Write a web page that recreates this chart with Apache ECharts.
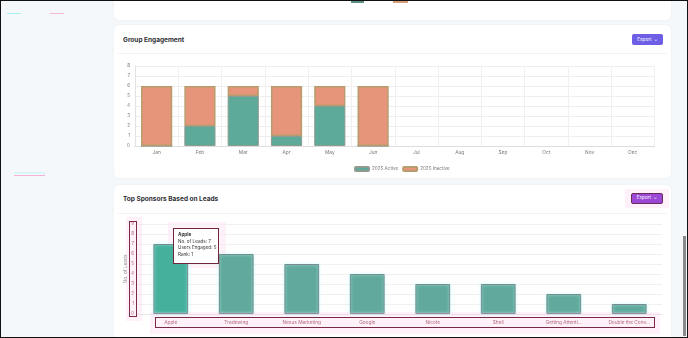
<!DOCTYPE html>
<html>
<head>
<meta charset="utf-8">
<script src="https://cdn.jsdelivr.net/npm/echarts@6/dist/echarts.min.js"></script>
<style>
  html, body { margin:0; padding:0; }
  body { width:688px; height:338px; position:relative; overflow:hidden; background:#f5f8fb; font-family: Inter, "Noto Sans", sans-serif; }
  .abs { position:absolute; box-sizing:border-box; }
  .card { background:#fff; border-radius:5px; box-shadow:0 0 2px rgba(0,0,0,0.07); }
  .title { font-size:6.5px; font-weight:700; color:#2e2e33; white-space:nowrap; line-height:8px; }
  .btn { color:#fff; font-size:4.6px; line-height:11px; text-align:center; border-radius:2px; white-space:nowrap; }
  .sep { height:1px; background:#f2f2f4; }
  .box { border:1.5px solid #7a2a44; pointer-events:none; }
  .pink { background:rgba(255,170,215,0.16); pointer-events:none; }
</style>
</head>
<body>
<script>
// ---------- data ----------
var months = ['Jan','Feb','Mar','Apr','May','Jun','Jul','Aug','Sep','Oct','Nov','Dec'];
var active2025 = [0, 2, 5, 1, 4, 0, null, null, null, null, null, null];
var inactive2025 = [6, 4, 1, 5, 2, 6, null, null, null, null, null, null];
var engagementTicks = [0, 8, 1]; // min, max, interval
var sponsors = ['Apple','Tradewing','Nexus Marketing','Google','Nicole','Shell','Getting Attenti...','Double the Conv...'];
var sponsorLeads = [7, 6, 5, 4, 3, 3, 2, 1];
var sponsorUsersEngaged = [5];
var leadsTicks = [0, 9, 1]; // min, max, interval
</script>

<!-- top card remnant -->
<div class="abs card" style="left:114px;top:-10px;width:557px;height:30px;"></div>
<div class="abs" style="left:351px;top:0px;width:13px;height:3px;background:#5e8f86;"></div>
<div class="abs" style="left:366px;top:-3px;font-size:4.5px;color:#999;line-height:5px;">2025 Active</div>
<div class="abs" style="left:393px;top:0px;width:15px;height:3px;background:#d6a07a;"></div>
<div class="abs" style="left:410px;top:-3px;font-size:4.5px;color:#999;line-height:5px;">2025 Inactive</div>

<!-- sidebar marks -->
<div class="abs" style="left:7px;top:13px;width:14px;height:1px;background:#a8f0f0;"></div>
<div class="abs" style="left:50px;top:13px;width:14px;height:1px;background:#f7b8de;"></div>
<div class="abs" style="left:14px;top:172px;width:31px;height:2px;background:#d8f8f8;"></div>
<div class="abs" style="left:14px;top:175px;width:31px;height:1px;background:#f6b0d8;"></div>

<!-- card 2 -->
<div class="abs card" style="left:114px;top:25px;width:557px;height:153px;"></div>
<div class="abs title" style="left:123px;top:36px;">Group Engagement</div>
<div class="abs sep" style="left:118px;top:53px;width:549px;"></div>
<div class="abs btn" style="left:632px;top:34px;width:31px;height:11px;background:#6e5ee6;">Export &nbsp;&#8964;</div>

<!-- card 3 -->
<div class="abs card" style="left:114px;top:185px;width:557px;height:170px;"></div>
<div class="abs title" style="left:123px;top:195px;">Top Sponsors Based on Leads</div>
<div class="abs sep" style="left:118px;top:213px;width:549px;"></div>
<div class="abs pink" style="left:625px;top:189px;width:44px;height:19px;"></div>
<div class="abs btn" style="left:631px;top:193px;width:32px;height:11px;background:#9a47d6;border:1.5px solid #6e2a5a;line-height:8px;">Export &nbsp;&#8964;</div>

<div id="chart" class="abs" style="left:0;top:0;width:688px;height:338px;z-index:10;"></div>

<!-- annotations -->
<div class="abs pink" style="left:126px;top:217px;width:16px;height:104px;z-index:20;"></div>
<div class="abs box" style="left:129px;top:221px;width:8px;height:96px;z-index:21;"></div>
<div class="abs pink" style="left:150px;top:312px;width:510px;height:22px;z-index:20;"></div>
<div class="abs box" style="left:155px;top:317px;width:500px;height:11px;z-index:21;"></div>
<div class="abs pink" style="left:168px;top:222px;width:58px;height:46px;z-index:9;"></div>

<!-- scrollbar + frame -->
<div class="abs" style="left:683px;top:236px;width:3px;height:100px;background:#8a8a8a;z-index:30;"></div>
<div class="abs" style="left:0;top:0;width:688px;height:338px;border:1.5px solid #111;z-index:40;pointer-events:none;"></div>

<script>
var chart = echarts.init(document.getElementById('chart'), null, {renderer:'canvas'});
var FONT = 'Inter';
var teal = '#5eaa9a', orange = '#e6957a', tan = '#b79d6d';

var option = {
  animation: false,
  backgroundColor: 'transparent',
  textStyle: { fontFamily: FONT },
  legend: {
    data: ['2025 Active', '2025 Inactive'],
    left: 349, top: 161,
    itemWidth: 14, itemHeight: 4, itemGap: 4,
    textStyle: { fontSize: 4.6, color: '#777', fontFamily: FONT, padding: [0,0,0,-2] }
  },
  tooltip: {
    trigger: 'item',
    triggerOn: 'none',
    alwaysShowContent: true,
    transitionDuration: 0,
    position: [173, 228],
    backgroundColor: '#fff',
    borderColor: '#6d2739',
    borderWidth: 1.5,
    padding: [3, 4],
    textStyle: { fontSize: 4.6, color: '#333', fontFamily: FONT },
    extraCssText: 'box-shadow:none;border-radius:0;line-height:6.5px;width:36px;height:28px;box-sizing:content-box;',
    formatter: function (p) {
      if (p.seriesIndex !== 2) return '';
      var ue = sponsorUsersEngaged[p.dataIndex];
      return '<b>' + p.name + '</b><br/>No. of Leads: ' + p.value +
             '<br/>Users Engaged: ' + ue + '<br/>Rank: ' + (p.dataIndex + 1);
    }
  },
  grid: [
    { left: 135, right: 33.5, top: 66, bottom: 192 },
    { left: 138, right: 26, top: 224, bottom: 24 }
  ],
  xAxis: [
    {
      gridIndex: 0, type: 'category', data: months,
      axisLine: { lineStyle: { color: '#dedede', width: 1 } },
      axisTick: { show: false },
      axisLabel: { fontSize: 4.8, color: '#777', margin: 4, interval: 0 },
      splitLine: { show: true, lineStyle: { color: '#f0f0f0', width: 1 } }
    },
    {
      gridIndex: 1, type: 'category', data: sponsors,
      axisLine: { lineStyle: { color: '#e8e8e8', width: 1 } },
      axisTick: { show: false },
      axisLabel: { fontSize: 4.8, color: '#a35d6e', margin: 6, interval: 0 },
      splitLine: { show: false }
    }
  ],
  yAxis: [
    {
      gridIndex: 0, type: 'value',
      min: engagementTicks[0], max: engagementTicks[1], interval: engagementTicks[2],
      axisLine: { show: true, lineStyle: { color: '#e2e2e2' } },
      axisTick: { show: false },
      axisLabel: { fontSize: 4.6, color: '#777', margin: 5 },
      splitLine: { lineStyle: { color: '#eeeeee', width: 1 } }
    },
    {
      gridIndex: 1, type: 'value',
      min: leadsTicks[0], max: leadsTicks[1], interval: leadsTicks[2],
      name: 'No. of Leads', nameLocation: 'middle', nameGap: 10, nameMoveOverlap: false,
      nameTextStyle: { fontSize: 4.8, color: '#8a8a8a', fontFamily: FONT },
      axisLine: { show: false },
      axisTick: { show: false },
      axisLabel: { fontSize: 4.6, color: '#a35d6e', margin: 4 },
      splitLine: { lineStyle: { color: '#f0f0f0', width: 1 } }
    }
  ],
  series: [
    {
      name: '2025 Active', type: 'bar', stack: 'g', xAxisIndex: 0, yAxisIndex: 0,
      data: active2025, barWidth: '72%',
      itemStyle: { color: teal, borderColor: '#8f9b8f', borderWidth: 1 }
    },
    {
      name: '2025 Inactive', type: 'bar', stack: 'g', xAxisIndex: 0, yAxisIndex: 0,
      data: inactive2025, barWidth: '72%',
      itemStyle: { color: orange, borderColor: tan, borderWidth: 1.5 }
    },
    {
      name: 'Leads', type: 'bar', xAxisIndex: 1, yAxisIndex: 1,
      data: sponsorLeads.map(function (v, i) {
        return i === 0 ? { value: v, itemStyle: { color: '#45b09c' } } : v;
      }),
      barWidth: '53%',
      itemStyle: { color: '#61a99c', borderColor: '#7d8b8d', borderWidth: 1,
                   shadowColor: 'rgba(170,250,250,0.9)', shadowBlur: 3 }
    }
  ]
};
chart.setOption(option);
chart.dispatchAction({ type: 'showTip', seriesIndex: 2, dataIndex: 0 });
setTimeout(function () { chart.dispatchAction({ type: 'showTip', seriesIndex: 2, dataIndex: 0 }); }, 50);
</script>
</body>
</html>
